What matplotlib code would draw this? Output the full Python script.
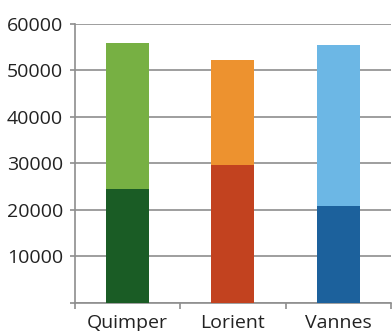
import numpy as np
import matplotlib
matplotlib.use('Agg')
import matplotlib.pyplot as plt

# Villes et effectifs (deux composantes empilées)
villes = ['Quimper', 'Lorient', 'Vannes']
base = [24500, 29700, 20800]
complement = [31400, 22500, 34700]

couleurs_base = ['#1a5c25', '#c2421f', '#1c619c']
couleurs_haut = ['#77b043', '#ed922f', '#6cb7e5']

yticks = [0, 10000, 20000, 30000, 40000, 50000, 60000]
ytick_labels = ['', '10000', '20000', '30000', '40000', '50000', '60000']

plt.rcParams['font.family'] = ['Open Sans', 'DejaVu Sans']

fig = plt.figure(figsize=(3.92, 3.31), dpi=100)
ax = fig.add_axes([0.191, 0.0855, 0.806, 0.842])

x = np.arange(len(villes))
largeur = 0.41
ax.bar(x, base, width=largeur, color=couleurs_base, zorder=3)
ax.bar(x, complement, width=largeur, bottom=base, color=couleurs_haut, zorder=3)

grille = '#8e8e8e'
ax.set_ylim(0, 60000)
ax.set_xlim(-0.5, 2.5)
ax.set_yticks(yticks)
ax.set_yticklabels(ytick_labels)
ax.yaxis.grid(True, color=grille, linewidth=1.2, zorder=1)

ax.set_xticks(x)
ax.set_xticklabels(villes)
ax.set_xticks([-0.5, 0.5, 1.5, 2.5], minor=True)
ax.tick_params(axis='x', which='major', length=0, pad=8, labelsize=14, labelcolor='#222222')
ax.tick_params(axis='x', which='minor', length=4, width=1.2, color=grille)
ax.tick_params(axis='y', length=3.5, width=1.2, color=grille, pad=5, labelsize=14, labelcolor='#222222')

for side in ['top', 'right']:
    ax.spines[side].set_visible(False)
for side in ['left', 'bottom']:
    ax.spines[side].set_color(grille)
    ax.spines[side].set_linewidth(1.2)

fig.savefig('out.png', dpi=100)
